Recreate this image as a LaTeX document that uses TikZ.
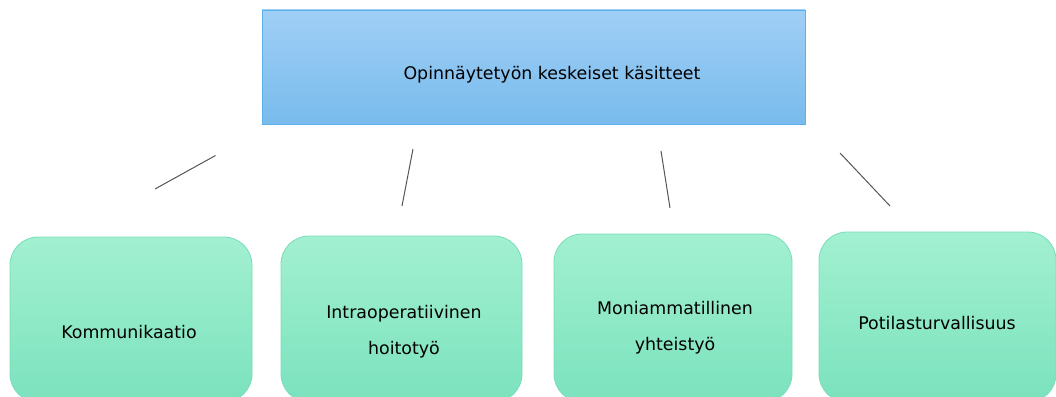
\documentclass[tikz,border=0pt]{standalone}
\usepackage{fontspec}
\setmainfont{DejaVu Sans}
\definecolor{bluetop}{HTML}{A0CFF6}
\definecolor{bluebot}{HTML}{78BBEC}
\definecolor{blueedge}{HTML}{5DB0EA}
\definecolor{greentop}{HTML}{A2F0D1}
\definecolor{greenbot}{HTML}{7BE2BD}
\definecolor{greenedge}{HTML}{78DDB8}
\definecolor{linegray}{HTML}{555555}
\tikzset{
  topbox/.style={draw=blueedge, line width=0.8pt, top color=bluetop, bottom color=bluebot},
  leafbox/.style={draw=greenedge, line width=0.8pt, top color=greentop, bottom color=greenbot, rounded corners=28pt},
  lbl/.style={font=\fontsize{17.4}{36}\selectfont, align=center, text=black, inner sep=0pt},
  conn/.style={draw=linegray, line width=1pt}
}
\begin{document}
\begin{tikzpicture}[x=1pt,y=-1pt]
\useasboundingbox (0,0) rectangle (1056,396);
\clip (0,0) rectangle (1056,396);
% top box
\path[topbox] (262,10) rectangle (805,124);
\node[lbl] (top) at (552,75) {Opinnäytetyön keskeiset käsitteet};
% leaf boxes
\path[leafbox] (10,237) rectangle (252,402);
\path[leafbox] (281,236) rectangle (522,402);
\path[leafbox] (554,234) rectangle (792,402);
\path[leafbox] (819,232) rectangle (1056,402);
\node[lbl] (k) at (129,332) {Kommunikaatio};
\node[lbl] (i) at (404,332) {Intraoperatiivinen\\hoitotyö};
\node[lbl] (m) at (675,328) {Moniammatillinen\\yhteistyö};
\node[lbl] (p) at (937,323) {Potilasturvallisuus};
% free-standing connector lines
\coordinate (a1) at (215.5,155.5); \coordinate (b1) at (155,189);
\coordinate (a2) at (413,149);   \coordinate (b2) at (402,206);
\coordinate (a3) at (661,151);   \coordinate (b3) at (670,208);
\coordinate (a4) at (840,153);   \coordinate (b4) at (890,206);
\draw[conn] (a1) -- (b1);
\draw[conn] (a2) -- (b2);
\draw[conn] (a3) -- (b3);
\draw[conn] (a4) -- (b4);
\end{tikzpicture}
\end{document}
